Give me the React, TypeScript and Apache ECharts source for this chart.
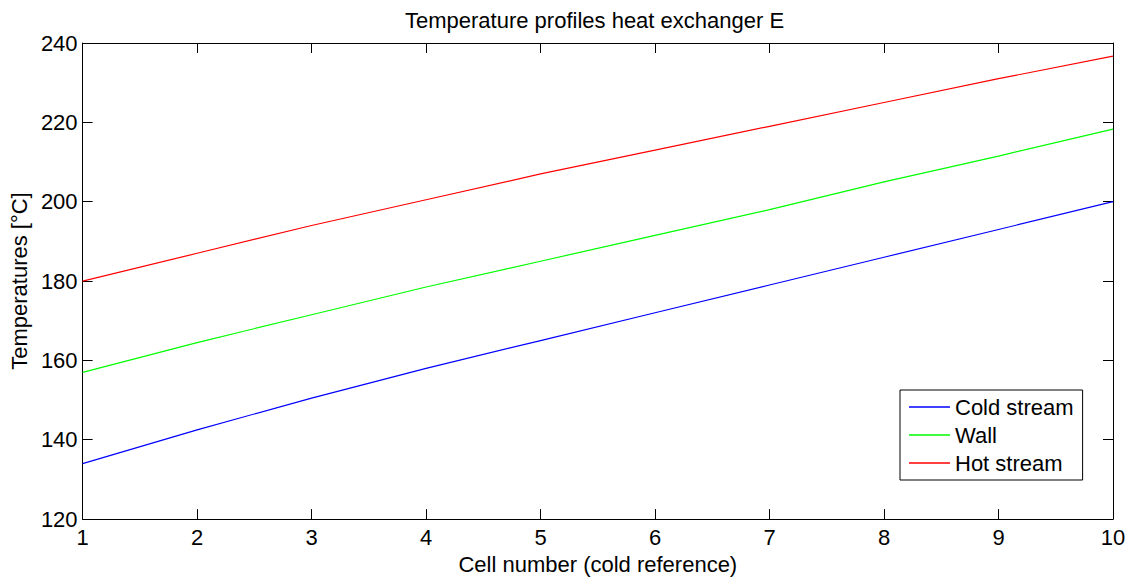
import React, { useEffect, useRef } from "react";
import * as echarts from "echarts";

const cells = [1, 2, 3, 4, 5, 6, 7, 8, 9, 10];
const coldStream = [134, 142.5, 150.5, 158, 165, 172, 179, 186, 193, 200];
const wall = [157, 164.5, 171.5, 178.5, 185, 191.5, 198, 205, 211.5, 218.3];
const hotStream = [180, 187, 194, 200.5, 207, 213, 219, 225, 231, 236.7];
const seriesNames = ["Cold stream", "Wall", "Hot stream"];
const seriesColors = ["#0000ff", "#00ff00", "#ff0000"];
const titleText = "Temperature profiles heat exchanger E";
const xName = "Cell number (cold reference)";
const yName = "Temperatures [°C]";

const FONT = "'Liberation Sans', Arial, sans-serif";
const FS = 22;

export default function App() {
  const ref = useRef<HTMLDivElement>(null);
  useEffect(() => {
    if (!ref.current) return;
    const chart = echarts.init(ref.current, undefined, { renderer: "svg" });
    const values = [coldStream, wall, hotStream];
    const axisCommon = {
      axisLine: { show: true, onZero: false, lineStyle: { color: "#000", width: 1 } },
      axisTick: { show: true, inside: true, length: 10, lineStyle: { color: "#000" } },
      splitLine: { show: false },
    };
    chart.setOption({
      animation: false,
      backgroundColor: "#fff",
      textStyle: { fontFamily: FONT },
      title: {
        text: titleText,
        left: 400,
        top: 4,
        textStyle: { fontFamily: FONT, fontSize: FS, fontWeight: "normal", color: "#000" },
      },
      grid: { left: 82, right: 22, top: 43, bottom: 60, containLabel: false },
      legend: {
        data: seriesNames.map((n, i) => ({
          name: n,
          icon: "rect",
          itemStyle: { color: seriesColors[i] },
        })),
        orient: "vertical",
        left: 900,
        top: 390,
        itemWidth: 41,
        itemHeight: 1.6,
        itemGap: 6,
        padding: [6, 9, 6, 9],
        backgroundColor: "#fff",
        borderColor: "#000",
        borderWidth: 1,
        borderRadius: 0,
        textStyle: { fontFamily: FONT, fontSize: FS, color: "#000", padding: [0, 0, 0, 0] },
        selectedMode: false,
      },
      xAxis: [
        {
          type: "value",
          min: 1,
          max: 10,
          interval: 1,
          position: "bottom",
          name: xName,
          nameLocation: "middle",
          nameGap: 31,
          nameTextStyle: { fontFamily: FONT, fontSize: FS, color: "#000" },
          axisLabel: { fontFamily: FONT, fontSize: FS, color: "#000", margin: 7 },
          ...axisCommon,
        },
        {
          type: "value",
          min: 1,
          max: 10,
          interval: 1,
          position: "top",
          axisLabel: { show: false },
          ...axisCommon,
        },
      ],
      yAxis: [
        {
          type: "value",
          min: 120,
          max: 240,
          interval: 20,
          position: "left",
          name: yName,
          nameLocation: "middle",
          nameGap: 52,
          nameTextStyle: { fontFamily: FONT, fontSize: FS, color: "#000" },
          axisLabel: { fontFamily: FONT, fontSize: FS, color: "#000", margin: 5 },
          ...axisCommon,
        },
        {
          type: "value",
          min: 120,
          max: 240,
          interval: 20,
          position: "right",
          axisLabel: { show: false },
          ...axisCommon,
        },
      ],
      series: seriesNames.map((name, i) => ({
        name,
        type: "line",
        xAxisIndex: 0,
        yAxisIndex: 0,
        data: cells.map((c, j) => [c, values[i][j]]),
        symbol: "none",
        lineStyle: { color: seriesColors[i], width: 1.2 },
        itemStyle: { color: seriesColors[i] },
      })),
    });
    return () => chart.dispose();
  }, []);
  return (
    <div
      ref={ref}
      style={{ position: "fixed", left: 0, top: 0, width: 1135, height: 580 }}
    />
  );
}
